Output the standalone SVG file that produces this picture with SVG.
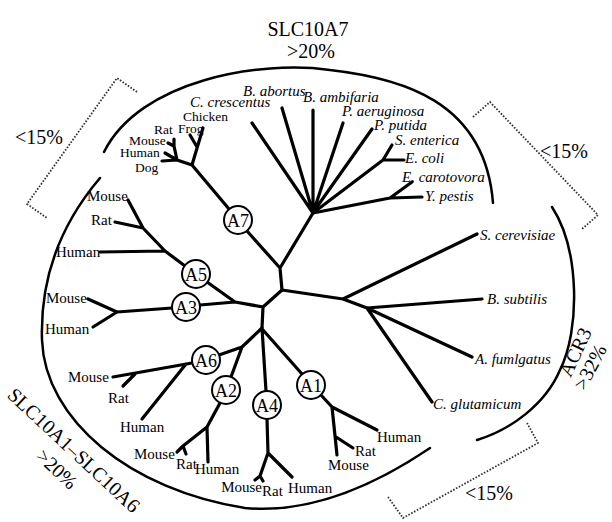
<svg xmlns="http://www.w3.org/2000/svg" width="612" height="522" viewBox="0 0 612 522">
<style>
.br{fill:none;stroke:#000;stroke-width:3.2;stroke-linecap:round;stroke-linejoin:round}
.arc{fill:none;stroke:#000;stroke-width:2.5;stroke-linecap:round}
.dot{fill:none;stroke:#333;stroke-width:1.8;stroke-dasharray:1.6 1.6}
.nd circle{fill:#fff;stroke:#000;stroke-width:2}
.nd text{font-family:"Liberation Serif","Times New Roman",serif;font-size:18px;text-anchor:middle;fill:#000}
.lb{font-family:"Liberation Serif","Times New Roman",serif;font-size:15px;fill:#000}
.sm{font-size:13.5px}
.it{font-style:italic}
.big{font-family:"Liberation Serif","Times New Roman",serif;font-size:20px;fill:#000}
</style>
<rect width="612" height="522" fill="#fff"/>
<g id="groups">
<path class="arc" d="M104,152 C140,80 260,60 330,70 C400,78 485,100 493,203"/>
<path class="arc" d="M100,178 C60,225 40,280 42,340 C45,420 130,490 245,508 C320,515 390,475 430,448"/>
<path class="arc" d="M552,207 C580,250 580,330 560,370 C545,405 510,430 477,440"/>
<path class="dot" d="M137,92 L117,78 L27,204 L47,218"/>
<path class="dot" d="M473,117 L490,102 L598,215 L582,229"/>
<path class="dot" d="M388,497 L403,518 L538,443 L527,423"/>
<text class="big" x="308" y="36" text-anchor="middle" font-size="21">SLC10A7</text>
<text class="big" x="311" y="58" text-anchor="middle" font-size="21">&gt;20%</text>
<text class="big" x="15" y="144">&lt;15%</text>
<text class="big" x="540" y="158">&lt;15%</text>
<text class="big" x="465" y="500">&lt;15%</text>
<text class="big" transform="translate(575,352) rotate(-65)" y="7" text-anchor="middle">ACR3</text>
<text class="big" transform="translate(590,367) rotate(-62)" y="7" text-anchor="middle" font-size="19">&gt;32%</text>
<text class="big" transform="translate(74,450) rotate(43)" y="7" text-anchor="middle">SLC10A1–SLC10A6</text>
<text class="big" transform="translate(57,469) rotate(43)" y="7" text-anchor="middle">&gt;20%</text>
</g>
<g id="connectors">
<path class="br" d="M280,268 L282,290 M280,268 L313,213 M280,268 L247,231"/>
<path class="br" d="M313,213 L252,123 M313,213 L282,108 M313,213 L313,110 M313,213 L343,123 M314,211 L372,129"/>
<path class="br" d="M313,213 L383,160 M383,160 L392,145 M383,160 L404,160"/>
<path class="br" d="M313,213 L390,198 M390,198 L422,197 M390,198 L412,182"/>
<path class="br" d="M282,290 L343,299 M343,299 L477,234 M343,299 L367,308 M367,308 L482,299 M367,308 L472,357 M367,308 L432,402"/>
<path class="br" d="M282,290 L263,307 L262,328 M263,307 L235,302 M235,302 L207,282 M235,302 L200,305"/>
<path class="br" d="M262,328 L242,347 M242,347 L219,355 M242,347 L231,377 M262,328 L266,391 M263,330 L302,374"/>
<path class="br" d="M229,209 L192,165 M192,165 L203,128 M197,147 L190,135 M192,165 L177,160 M177,160 L162,161 M177,160 L165,153 M177,160 L174,146 M174,146 L168,143 M174,146 L174,139"/>
<path class="br" d="M185,266 L165,251 L143,228 L128,200 M165,251 L100,252 M143,228 L115,222"/>
<path class="br" d="M172,308 L117,312 M117,312 L88,299 M117,312 L93,327"/>
<path class="br" d="M192,363 L113,377 M135,374 L123,386 M186,364 L142,419"/>
<path class="br" d="M220,403 L207,427 L208,462 M207,427 L183,446 M183,446 L177,452 M183,446 L186,454"/>
<path class="br" d="M267,419 L268,453 M268,453 L260,476 M260,476 L255,480 M260,476 L263,481 M268,453 L292,477"/>
<path class="br" d="M321,395 L332,407 L377,430 M332,407 L337,455 M336,437 L353,448"/>
</g>
<g id="A7" class="nd"><circle cx="238" cy="220" r="14"/><text x="238" y="226.5">A7</text></g>
<g id="A5" class="nd"><circle cx="196" cy="274" r="14"/><text x="196" y="280.5">A5</text></g>
<g id="A3" class="nd"><circle cx="186" cy="307" r="14"/><text x="186" y="313.5">A3</text></g>
<g id="A6" class="nd"><circle cx="206" cy="360" r="14"/><text x="206" y="366.5">A6</text></g>
<g id="A2" class="nd"><circle cx="226" cy="390" r="14"/><text x="226" y="396.5">A2</text></g>
<g id="A4" class="nd"><circle cx="267" cy="405" r="14"/><text x="267" y="411.5">A4</text></g>
<g id="A1" class="nd"><circle cx="311" cy="385" r="14"/><text x="311" y="391.5">A1</text></g>
<g id="bacteria">
<text class="lb it" x="243" y="96" font-size="14.5">B. abortus</text>
<text class="lb it" x="190" y="107">C. crescentus</text>
<text class="lb it" x="303" y="102">B. ambifaria</text>
<text class="lb it" x="342" y="116" font-size="14.5">P. aeruginosa</text>
<text class="lb it" x="374" y="130" font-size="14.5">P. putida</text>
<text class="lb it" x="395" y="145">S. enterica</text>
<text class="lb it" x="405" y="163">E. coli</text>
<text class="lb it" x="402" y="182">E. carotovora</text>
<text class="lb it" x="425" y="201">Y. pestis</text>
<text class="lb it" x="480" y="240">S. cerevisiae</text>
<text class="lb it" x="487" y="304">B. subtilis</text>
<text class="lb it" x="475" y="364">A. fumlgatus</text>
<text class="lb it" x="433" y="409">C. glutamicum</text>
</g>
<g id="A7-leaves">
<text class="lb sm" x="183" y="121">Chicken</text>
<text class="lb sm" x="178" y="133">Frog</text>
<text class="lb sm" x="154" y="134">Rat</text>
<text class="lb sm" x="129" y="145">Mouse</text>
<text class="lb sm" x="120" y="157">Human</text>
<text class="lb sm" x="135" y="172">Dog</text>
</g>
<g id="A5-leaves">
<text class="lb" x="87" y="201">Mouse</text>
<text class="lb" x="91" y="225">Rat</text>
<text class="lb" x="56" y="257">Human</text>
</g>
<g id="A3-leaves">
<text class="lb" x="46" y="303">Mouse</text>
<text class="lb" x="45" y="334">Human</text>
</g>
<g id="A6-leaves">
<text class="lb" x="68" y="382">Mouse</text>
<text class="lb" x="108" y="403">Rat</text>
<text class="lb" x="120" y="432">Human</text>
</g>
<g id="A2-leaves">
<text class="lb" x="134" y="459">Mouse</text>
<text class="lb" x="176" y="469">Rat</text>
<text class="lb" x="195" y="474">Human</text>
</g>
<g id="A4-leaves">
<text class="lb" x="262" y="492" text-anchor="end">Mouse</text>
<text class="lb" x="262" y="496">Rat</text>
<text class="lb" x="288" y="493">Human</text>
</g>
<g id="A1-leaves">
<text class="lb" x="377" y="442">Human</text>
<text class="lb" x="355" y="456">Rat</text>
<text class="lb" x="328" y="470">Mouse</text>
</g>
</svg>
